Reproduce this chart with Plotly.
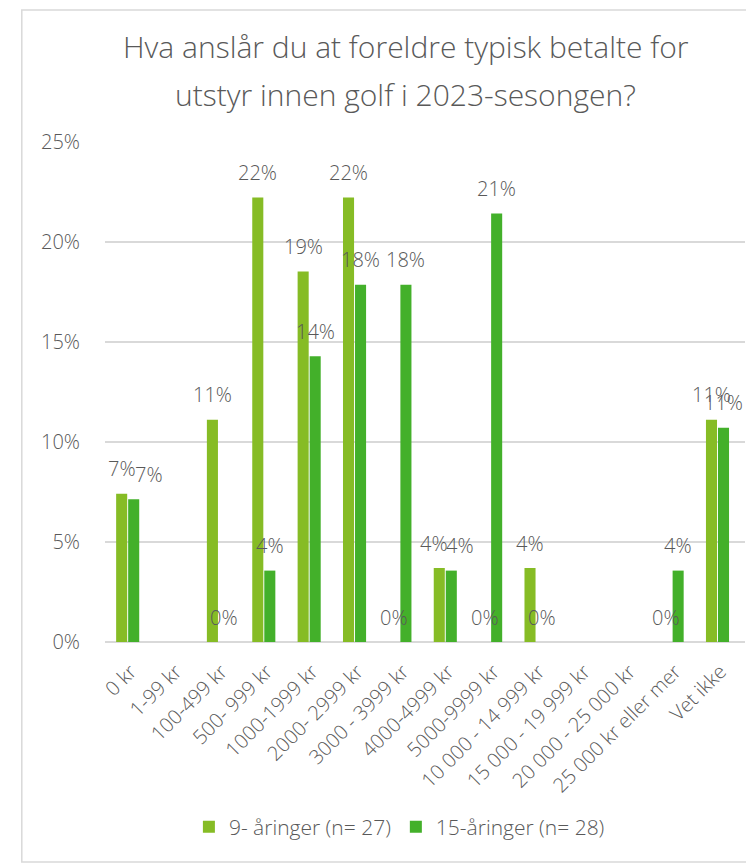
import plotly.graph_objects as go

categories = ['0 kr', '1-99 kr', '100-499 kr', '500- 999 kr', '1000-1999 kr', '2000- 2999 kr',
              '3000 - 3999 kr', '4000-4999 kr', '5000-9999 kr', '10 000 - 14 999 kr',
              '15 000 - 19 999 kr', '20 000 - 25 000 kr', '25 000 kr eller mer', 'Vet ikke']

# andel per kategori (None = ingen verdi i kilden)
nine_year = [0.0741, None, 0.1111, 0.2222, 0.1852, 0.2222, 0.0, 0.0370, 0.0, 0.0370, None, None, 0.0, 0.1111]
fifteen_year = [0.0714, None, 0.0, 0.0357, 0.1429, 0.1786, 0.1786, 0.0357, 0.2143, 0.0, None, None, 0.0357, 0.1071]

series_names = ['9- åringer (n= 27)', '15-åringer (n= 28)']
colors = ['#86BC25', '#43B02A']

# små sideveis justeringer av etiketter som ellers kolliderer (piksler)
label_nudge = {(1, '0 kr'): 15, (0, '4000-4999 kr'): -5, (1, '4000-4999 kr'): 9}

font_family = 'Open Sans'
grey = '#595959'

fig = go.Figure()
annotations = []
for i, (name, vals, col, shift) in enumerate(zip(series_names, [nine_year, fifteen_year], colors, [-6, 6])):
    fig.add_trace(go.Bar(
        x=categories, y=vals, name=name,
        marker=dict(color=col, line=dict(width=0)),
    ))
    # dataetiketter litt over søylene
    for cat, v in zip(categories, vals):
        if v is None:
            continue
        annotations.append(dict(
            x=cat, y=v, xref='x', yref='y', text=f'{v:.0%}', showarrow=False,
            xshift=shift + label_nudge.get((i, cat), 0), yshift=25,
            xanchor='center', yanchor='middle',
            font=dict(family=font_family, size=20, color=grey, weight=300)))

annotations += [
    dict(text='Hva anslår du at foreldre typisk betalte for', xref='paper', yref='paper',
         x=0.47, y=1.146, xanchor='center', yanchor='bottom', showarrow=False,
         font=dict(size=30, color=grey, family=font_family, weight=300)),
    dict(text='utstyr innen golf i 2023-sesongen?', xref='paper', yref='paper',
         x=0.47, y=1.05, xanchor='center', yanchor='bottom', showarrow=False,
         font=dict(size=30, color=grey, family=font_family, weight=300)),
]

fig.update_layout(
    width=746, height=857,
    margin=dict(l=97, r=9, t=134, b=223),
    paper_bgcolor='white', plot_bgcolor='white',
    barmode='group', bargap=0.47, bargroupgap=0.08,
    font=dict(family=font_family, color=grey, weight=300),
    showlegend=True,
    legend=dict(orientation='h', x=0.46, xanchor='center', y=-0.37, yanchor='middle',
                font=dict(size=21, color=grey, weight=300), itemwidth=30, traceorder='normal'),
    yaxis=dict(range=[0, 0.25], dtick=0.05, tickformat='.0%', showgrid=True,
               gridcolor='#d9d9d9', gridwidth=1.5, zeroline=True, zerolinecolor='#d9d9d9',
               zerolinewidth=1.5, tickfont=dict(size=20, color=grey, weight=300), ticks='',
               ticklabelstandoff=24, showline=False, automargin=False),
    xaxis=dict(tickangle=-45, tickfont=dict(size=20, color=grey, weight=300), showline=False,
               showgrid=False, ticks='', automargin=False, ticklabelstandoff=13,
               ticklabelshift=3),
    annotations=annotations,
    shapes=[dict(type='rect', xref='paper', yref='paper', x0=-0.13, x1=1.1, y0=-0.44, y1=1.264,
                 line=dict(color='#d9d9d9', width=1.5), fillcolor='rgba(0,0,0,0)')],
)

fig.write_html('out.html')
